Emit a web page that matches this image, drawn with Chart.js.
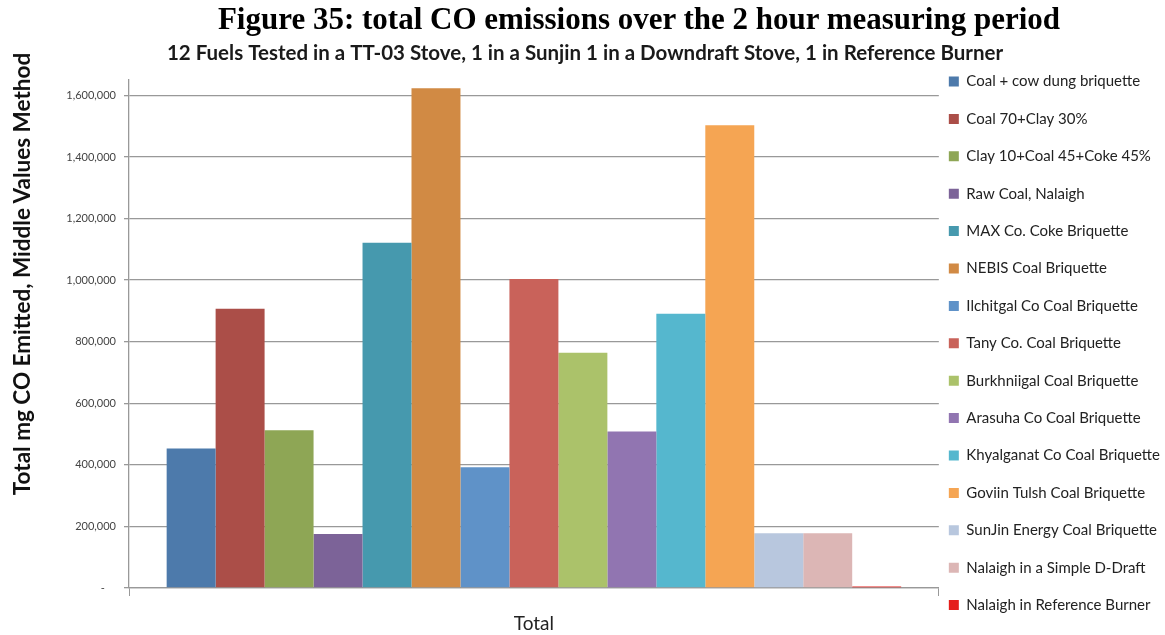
<!DOCTYPE html>
<html>
<head>
    <script src="https://cdn.jsdelivr.net/npm/chart.js@4"></script>
    <style>
        body { margin: 0; overflow: hidden; background: #fff; }
        #wrap { position: relative; width: 1165px; height: 635px; }
        #caption {
            position: absolute; top: 2px; left: 139px; width: 1000px;
            text-align: center; font: bold 31px "Liberation Serif", "Times New Roman", serif;
            line-height: 34px; color: #000;
        }
        #ytitle {
            position: absolute; left: -278px; top: 262px; width: 600px;
            text-align: center; font: bold 22.5px Lato, sans-serif; line-height: 24px;
            color: #111; transform: rotate(-90deg);
        }
    </style>
</head>
<body>
<div id="wrap">
    <canvas id="myChart" width="1165" height="635"></canvas>
    <div id="caption">Figure 35: total CO emissions over the 2 hour measuring period</div>
    <div id="ytitle">Total mg CO Emitted, Middle Values Method</div>
</div>
<script>
    // one category, one bar per fuel
    var categories = ['Total'];
    var fuels = [
        'Coal + cow dung briquette',
        'Coal 70+Clay 30%',
        'Clay 10+Coal 45+Coke 45%',
        'Raw Coal, Nalaigh',
        'MAX Co. Coke Briquette',
        'NEBIS Coal Briquette',
        'Ilchitgal Co Coal Briquette',
        'Tany Co. Coal Briquette',
        'Burkhniigal Coal Briquette',
        'Arasuha Co Coal Briquette',
        'Khyalganat Co Coal Briquette',
        'Goviin Tulsh Coal Briquette',
        'SunJin Energy Coal Briquette',
        'Nalaigh in a Simple D-Draft',
        'Nalaigh in Reference Burner'
    ];
    var coEmitted = [453000, 907000, 512000, 175000, 1121000, 1623000, 392000, 1004000,
        764000, 508000, 891000, 1503000, 178000, 178000, 5000];
    var colors = ['#4d7aab', '#ab4e48', '#8ea655', '#7c6398', '#4699ae', '#d18a44', '#5f92c8',
        '#c9625a', '#abc26a', '#9175b1', '#55b7ce', '#f5a553', '#b8c7de', '#dcb6b5', '#e51e1b'];
    var yTicks = [0, 200000, 400000, 600000, 800000, 1000000, 1200000, 1400000, 1600000];

    var datasets = fuels.map(function (name, i) {
        return {
            label: name,
            data: [coEmitted[i]],
            backgroundColor: colors[i],
            borderWidth: 0,
            categoryPercentage: 0.907,
            barPercentage: 1
        };
    });

    new Chart(document.getElementById('myChart').getContext('2d'), {
        type: 'bar',
        data: { labels: categories, datasets: datasets },
        options: {
            responsive: false,
            animation: false,
            layout: { padding: { left: 0, right: -5, top: 0, bottom: 0 } },
            plugins: {
                title: {
                    display: true,
                    text: '12 Fuels Tested in a TT-03 Stove, 1 in a Sunjin 1 in a Downdraft Stove, 1 in Reference Burner',
                    color: '#1a1a1a',
                    font: { family: 'Lato', size: 20.5, weight: 'bold' },
                    padding: { top: 41, bottom: 14.4 }
                },
                legend: {
                    position: 'right',
                    align: 'end',
                    labels: {
                        boxWidth: 10,
                        boxHeight: 10,
                        padding: 10,
                        color: '#222',
                        // a tall line height gives the wide row spacing of the original
                        font: { family: 'Lato', size: 15, lineHeight: '27.4px' },
                        generateLabels: function (chart) {
                            return Chart.defaults.plugins.legend.labels.generateLabels(chart).map(function (item) {
                                item.text = [item.text];
                                return item;
                            });
                        }
                    }
                },
                tooltip: { enabled: false }
            },
            scales: {
                x: {
                    afterFit: function (scale) { scale.height = 47; },
                    grid: { display: true, offset: true, drawOnChartArea: false, tickLength: 8, color: '#999' },
                    border: { color: '#999', width: 1.3 },
                    ticks: { color: '#222', padding: 16, font: { family: 'Lato', size: 19 } }
                },
                y: {
                    min: 0,
                    max: 1650000,
                    afterFit: function (scale) { scale.width = 129; },
                    afterBuildTicks: function (scale) {
                        scale.ticks = yTicks.map(function (v) { return { value: v }; });
                    },
                    grid: { color: '#999', lineWidth: 1.3, tickLength: 5 },
                    border: { color: '#999', width: 1.3 },
                    ticks: {
                        color: '#444',
                        padding: 8,
                        font: { family: 'Lato', size: 11 },
                        callback: function (v) { return v === 0 ? '-    ' : v.toLocaleString('en-US'); }
                    }
                }
            }
        }
    });
</script>
</body>
</html>
